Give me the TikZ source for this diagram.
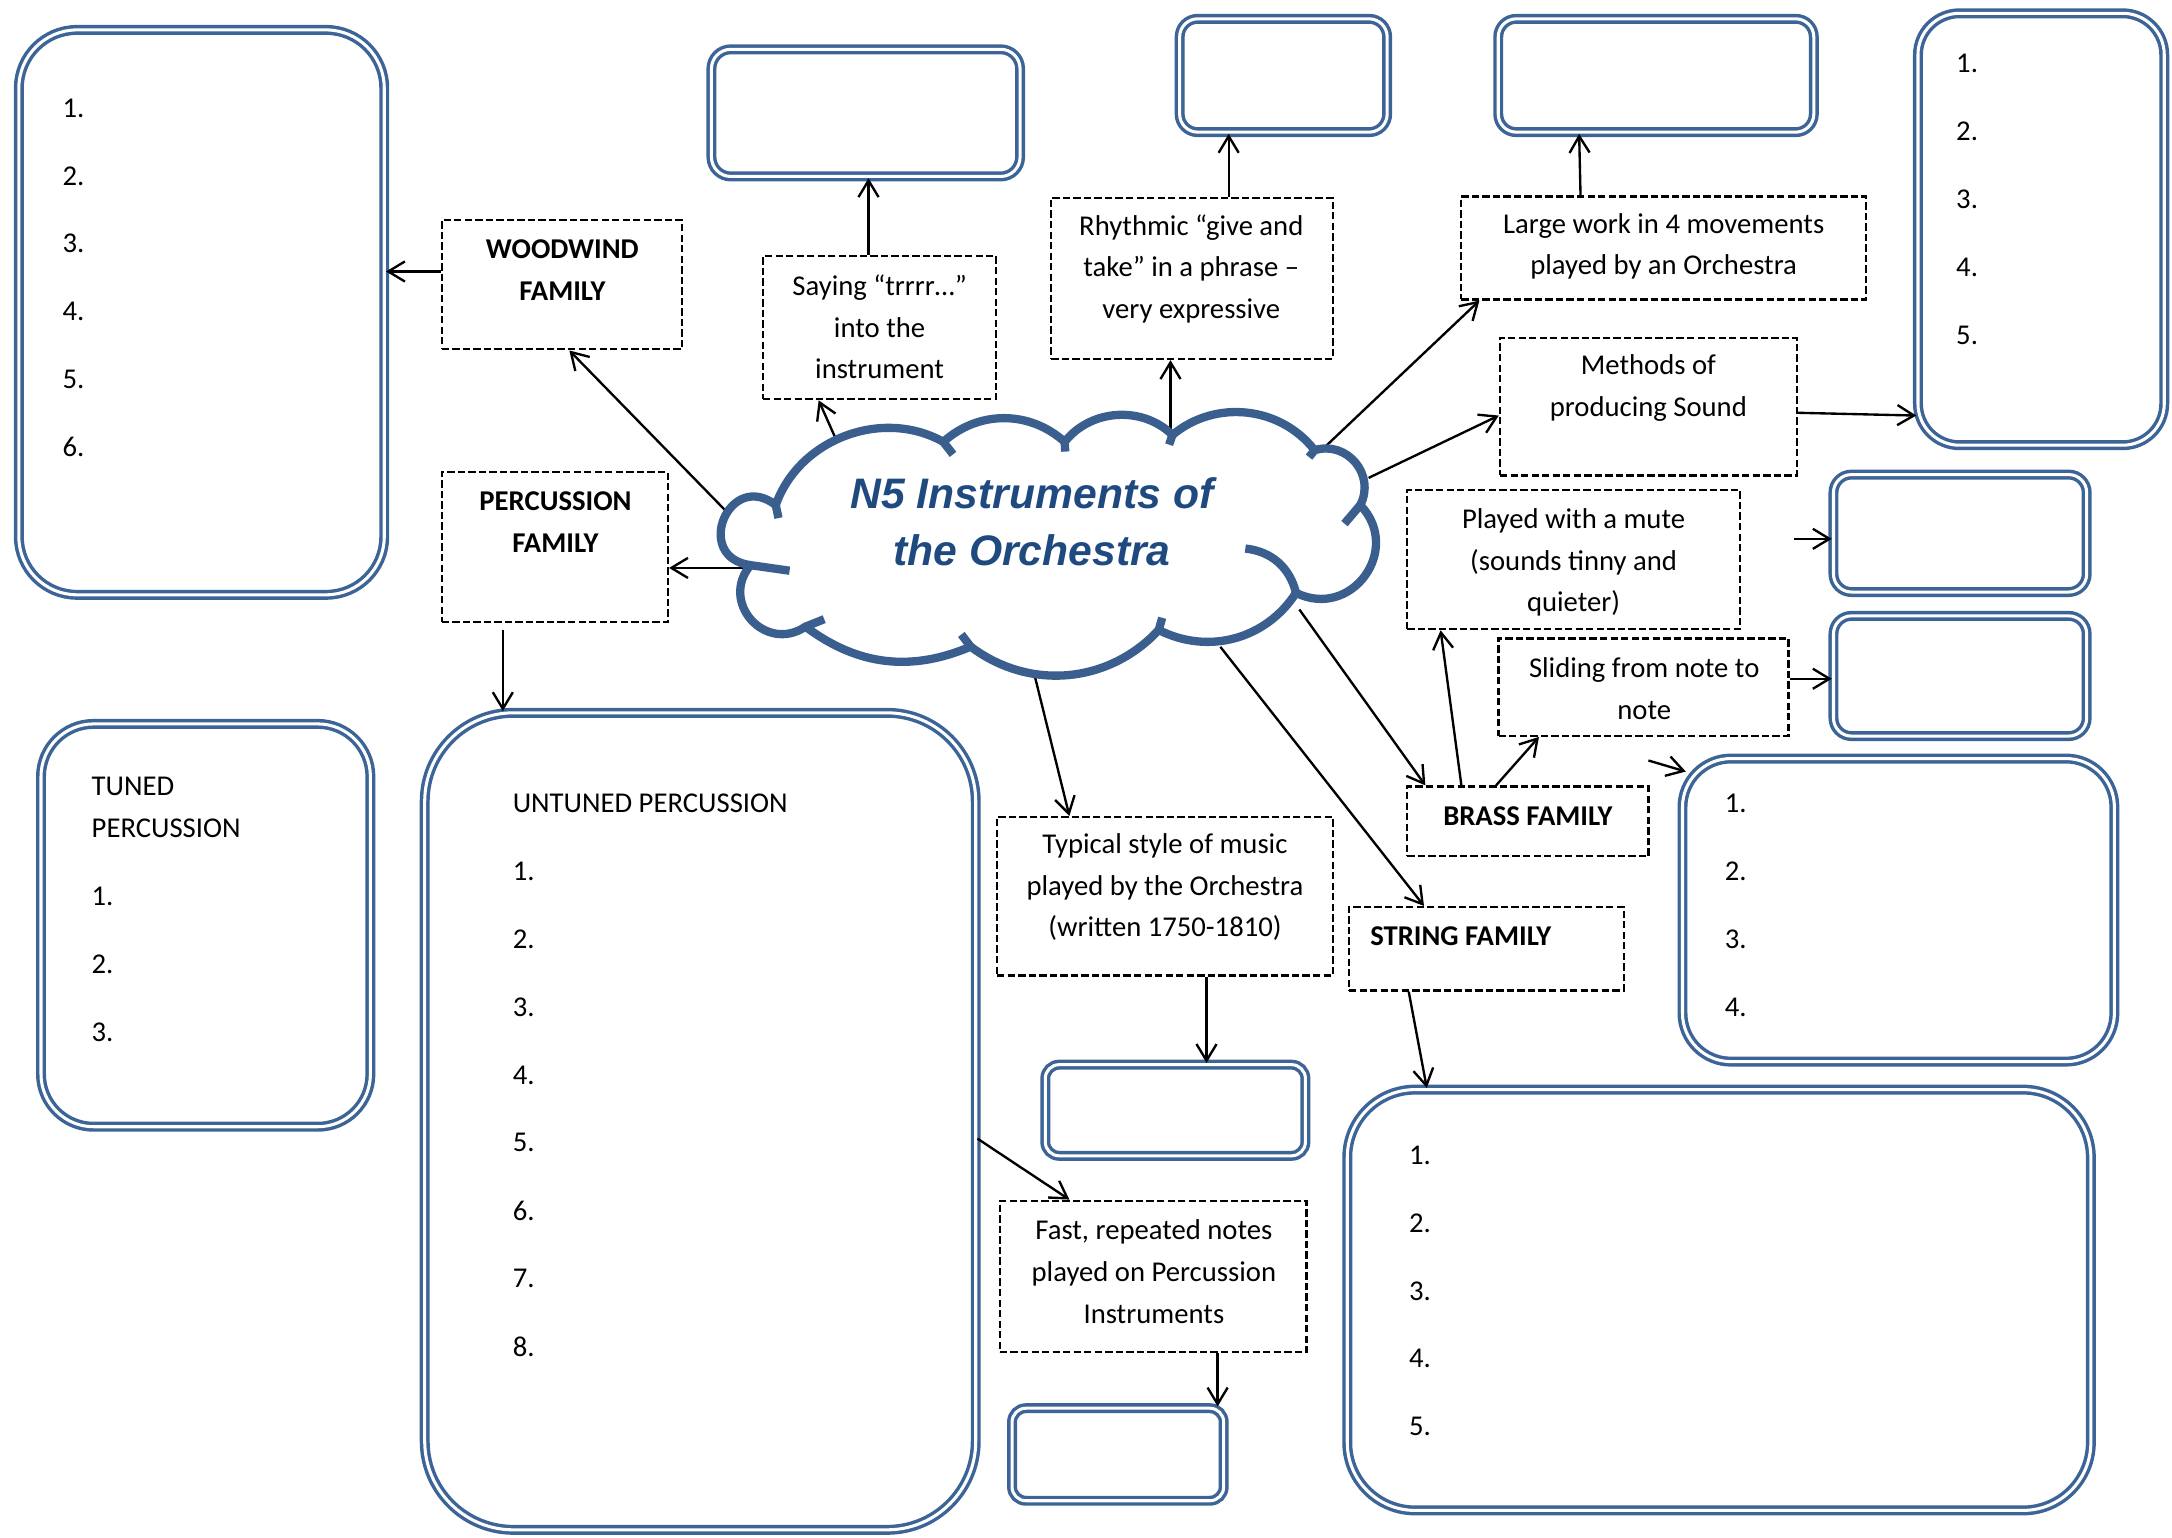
\documentclass[tikz,border=0pt]{standalone}
\usepackage{fontspec}
\setmainfont{Carlito}
\newfontfamily\cloudfamily{Liberation Sans}
\usetikzlibrary{arrows.meta}
\definecolor{frameblue}{HTML}{3C6496}
\definecolor{cloudblue}{HTML}{3A5F8E}
\definecolor{titleblue}{HTML}{1F4A80}
\def\bodysize{\fontsize{20.7}{30}\selectfont}
\def\titlesize{\fontsize{30.8}{41}\selectfont}
\def\titlecolor{\color{titleblue}}

\begin{document}
\begin{tikzpicture}[x=1pt, y=-1pt,
          every node/.style = {font=\bodysize},
          dbox/.style = {draw, dash pattern=on 5.3pt off 2.3pt, line width=1.7pt, inner sep=0pt},
          lbox/.style = {draw=frameblue, double=white, double distance=2.2pt,
            line width=2.5pt, inner sep=0pt, rounded corners=#1},
          txt/.style = {align=center, inner sep=0pt},
          btxt/.style = {txt, font=\bodysize\bfseries},
          item/.style = {anchor=west, inner sep=0pt},
          conn/.style = {draw, line width=1.7pt, -{Straight Barb[length=12pt,width=14.5pt]}},
          cloudline/.style = {draw=cloudblue, line width=6pt, line join=round}
          ]
  \useasboundingbox (0,0) rectangle (1568,1110);

  % answer boxes
  \node[lbox=42pt, minimum width=263.8pt, minimum height=407.8pt] (woodL) at (145.5,225.5) {};
  \node[lbox=14pt, minimum width=222.8pt, minimum height=91.8pt] (sayB) at (625,81.5) {};
  \node[lbox=13pt, minimum width=149.8pt, minimum height=81.8pt] (rhyB) at (926.5,54.5) {};
  \node[lbox=13pt, minimum width=227.8pt, minimum height=81.8pt] (largeB) at (1195.5,54.5) {};
  \node[lbox=30pt, minimum width=177.8pt, minimum height=311.8pt] (methL) at (1473.5,165.5) {};
  \node[lbox=13pt, minimum width=182.8pt, minimum height=84.8pt] (muteB) at (1415,385) {};
  \node[lbox=13pt, minimum width=182.8pt, minimum height=86.8pt] (slideB) at (1415,488) {};
  \node[lbox=35pt, minimum width=311.8pt, minimum height=218.8pt] (brassL) at (1370.5,657) {};
  \node[lbox=38pt, minimum width=237.8pt, minimum height=290.8pt] (tunedL) at (148.5,668) {};
  \node[lbox=64pt, minimum width=397.8pt, minimum height=589.8pt] (untunedL) at (505.5,809.5) {};
  \node[lbox=10pt, minimum width=187.8pt, minimum height=65.8pt] (typB) at (848.5,801.5) {};
  \node[lbox=10pt, minimum width=152.8pt, minimum height=66.8pt] (fastB) at (807,1050) {};
  \node[lbox=49pt, minimum width=536.8pt, minimum height=303.8pt] (stringL) at (1241,938.5) {};

  % numbered lines
  \foreach \i in {1,...,6} \node[item] (w\i) at (45,{29+49*\i}) {\i.};
  \foreach \i in {1,...,5} \node[item] (m\i) at (1412,{-3+49*\i}) {\i.};
  \foreach \i in {1,...,4} \node[item] (b\i) at (1245,{531+49*\i}) {\i.};
  \node[item, align=left] (tunedT) at (66,583) {TUNED\\PERCUSSION};
  \foreach \i in {1,...,3} \node[item] (t\i) at (66,{598+49*\i}) {\i.};
  \node[item] (untunedT) at (370,580) {UNTUNED PERCUSSION};
  \foreach \i in {1,...,8} \node[item] (u\i) at (370,{580+49*\i}) {\i.};
  \foreach \i in {1,...,5} \node[item] (s\i) at (1017,{785+49*\i}) {\i.};

  % clue boxes
  \node[dbox, minimum width=173.3pt, minimum height=93.3pt] (woodF) at (405.5,205.5) {};
  \node[btxt] (woodT) at (406,195) {WOODWIND\\FAMILY};
  \node[dbox, minimum width=163.3pt, minimum height=108.3pt] (percF) at (400.5,395) {};
  \node[btxt] (percT) at (401,377) {PERCUSSION\\FAMILY};
  \node[dbox, minimum width=168.3pt, minimum height=103.3pt] (sayF) at (635,236.5) {};
  \node[txt] (sayT) at (635,236) {Saying “trrrr…”\\into the\\instrument};
  \node[dbox, minimum width=203.3pt, minimum height=116.3pt] (rhyF) at (860.5,201) {};
  \node[txt] (rhyT) at (860,194) {Rhythmic “give and\\take” in a phrase –\\very expressive};
  \node[dbox, minimum width=292.3pt, minimum height=74.3pt] (largeF) at (1201,179) {};
  \node[txt] (largeT) at (1201,178) {Large work in 4 movements\\played by an Orchestra};
  \node[dbox, minimum width=214.3pt, minimum height=99.3pt] (methF) at (1190,293.5) {};
  \node[txt] (methT) at (1190,280) {Methods of\\producing Sound};
  \node[dbox, minimum width=240.3pt, minimum height=100.3pt] (muteF) at (1136,404) {};
  \node[txt] (muteT) at (1136,406) {Played with a mute\\(sounds tinny and\\quieter)};
  \node[dbox, minimum width=209.3pt, minimum height=70.3pt] (slideF) at (1186.5,496) {};
  \node[txt] (slideT) at (1187,497) {Sliding from note to\\note};
  \node[dbox, minimum width=174.3pt, minimum height=50.3pt] (brassF) at (1103,593) {};
  \node[btxt] (brassT) at (1103,589) {BRASS FAMILY};
  \node[dbox, minimum width=198.3pt, minimum height=60.3pt] (stringF) at (1073,685) {};
  \node[btxt, anchor=west] (stringT) at (989,676) {STRING FAMILY};
  \node[dbox, minimum width=242.3pt, minimum height=114.3pt] (typF) at (841,647) {};
  \node[txt] (typT) at (841,640.5) {Typical style of music\\played by the Orchestra\\(written 1750-1810)};
  \node[dbox, minimum width=221.3pt, minimum height=109.3pt] (fastF) at (832.5,921.5) {};
  \node[txt] (fastT) at (833,918) {Fast, repeated notes\\played on Percussion\\Instruments};

  % points on the cloud
  \coordinate (cw) at (530,375);
  \coordinate (cp) at (545,410);
  \coordinate (cs) at (607,325);
  \coordinate (cr) at (845,316);
  \coordinate (cl) at (954,325);
  \coordinate (cm) at (988,345);
  \coordinate (cb) at (938,440);
  \coordinate (cst) at (881,467);
  \coordinate (ct) at (746,484);
  \coordinate (mutefree) at (1295,389);
  \coordinate (brassfree) at (1190,549);
  \coordinate (brasstip) at (1217,557);

  % connectors
  \draw[conn] ([yshift=9.5pt]woodF.west) -- ([yshift=9.5pt]woodF.west -| woodL.east);
  \draw[conn] (cw) -- ([xshift=5.5pt]woodF.south);
  \draw[conn] (cp) -- ([yshift=-15pt]percF.east);
  \draw[conn] ([xshift=-37.5pt,yshift=-5pt]percF.south) -- ([xshift=-37.5pt]percF.south |- untunedL.north);
  \draw[conn] (cs) -- ([xshift=-44pt]sayF.south);
  \draw[conn] ([xshift=-8pt]sayF.north) -- ([xshift=2pt]sayB.south);
  \draw[conn] (cr) -- ([xshift=-15.5pt]rhyF.south);
  \draw[conn] ([xshift=26.5pt]rhyF.north) -- ([xshift=-39.5pt]rhyB.south);
  \draw[conn] ([xshift=-60pt]largeF.north) -- ([xshift=-55.5pt]largeB.south);
  \draw[conn] (cl) -- ([xshift=14pt]largeF.south west);
  \draw[conn] (cm) -- ([yshift=-6.5pt]methF.west);
  \draw[conn] ([yshift=-4.5pt]methF.east) -- ([yshift=-134.5pt]methL.west);
  \draw[conn] (mutefree) -- (mutefree -| muteB.west);
  \draw[conn] ([yshift=6pt]slideF.east) -- ([yshift=6pt]slideF.east -| slideB.west);
  \draw[conn] ([xshift=-48pt]brassF.north) -- ([xshift=-96pt]muteF.south);
  \draw[conn] ([xshift=-23pt]brassF.north) -- ([xshift=-75.5pt]slideF.south);
  \draw[conn] (brassfree) -- (brasstip);
  \draw[conn] (cb) -- ([xshift=14pt]brassF.north west);
  \draw[conn] (cst) -- ([xshift=55pt]stringF.north west);
  \draw[conn] (ct) -- ([xshift=-69pt]typF.north);
  \draw[conn] ([xshift=30pt]typF.south) -- ([xshift=30pt]typF.south |- typB.north);
  \draw[conn] ([xshift=-56pt]stringF.south) -- ([xshift=-211pt]stringL.north);
  \draw[conn] ([yshift=-12.5pt]untunedL.east) -- ([xshift=-60.5pt]fastF.north);
  \draw[conn] ([xshift=46.5pt]fastF.south) -- ([xshift=46.5pt]fastF.south |- fastB.north);

  % cloud
  \draw[cloudline, fill=white] (560,364.6) to[bend left=50] (681,319) to[bend left=42] (768.6,319)
    to[bend left=48] (846.4,314) to[bend left=46] (949,325) to[bend left=67, looseness=1.22] (982,364.6)
    to[bend left=80, looseness=1.45] (935.6,428) to[bend left=42] (836.5,454.8) to[bend left=42] (700.7,466.8)
    to[bend left=30] (581.5,452.4) to[bend left=82, looseness=1.5] (541.8,408)
    to[bend left=105, looseness=2.3] (560,364.6) -- cycle;
  \draw[cloudline] (560,364.6) -- (562,374);
  \draw[cloudline] (681,319) -- (688,328);
  \draw[cloudline] (768.6,319) -- (769,326);
  \draw[cloudline] (846.4,314) -- (844,321);
  \draw[cloudline] (949,325) -- (945,330);
  \draw[cloudline] (982,364.6) -- (970.6,378);
  \draw[cloudline] (899,396) to[bend left=35] (935.6,428);
  \draw[cloudline] (836.5,454.8) -- (839,446);
  \draw[cloudline] (700.7,466.8) -- (694,458);
  \draw[cloudline] (581.5,452.4) -- (595,447);
  \draw[cloudline] (541.8,408) -- (570,412);
  \node[align=center, inner sep=0pt, font=\cloudfamily\bfseries\itshape\titlesize] (title) at (745,376.5)
    {\titlecolor N5 Instruments of\\\titlecolor the Orchestra};
\end{tikzpicture}
\end{document}
